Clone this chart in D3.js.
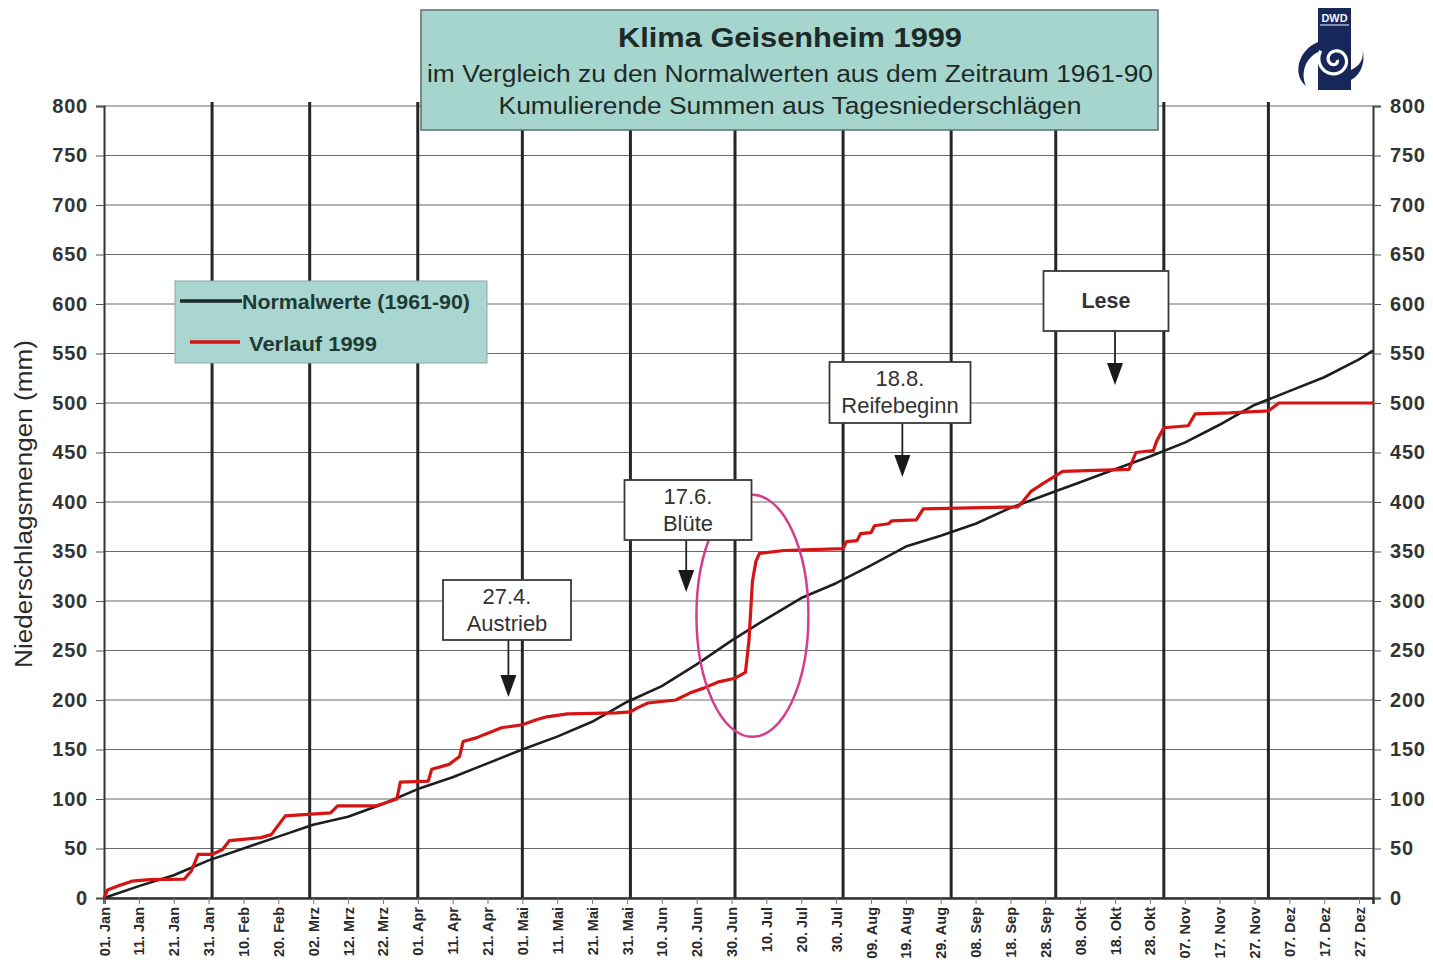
<!DOCTYPE html>
<html><head><meta charset="utf-8">
<script src="https://cdn.jsdelivr.net/npm/d3@7/dist/d3.min.js"></script>
<style>
html,body{margin:0;padding:0;background:#fff;}
svg{display:block;font-family:"Liberation Sans",Arial,sans-serif;}
</style></head>
<body>
<svg id="chart" width="1433" height="974"></svg>
<script>
// ---- DATA ----
const titleLines = ["Klima Geisenheim 1999", "im Vergleich zu den Normalwerten aus dem Zeitraum 1961-90", "Kumulierende Summen aus Tagesniederschlägen"];
const yAxisTitle = "Niederschlagsmengen (mm)";
const yTicks = [0,50,100,150,200,250,300,350,400,450,500,550,600,650,700,750,800];
const tickDays = [1,11,21,31,41,51,61,71,81,91,101,111,121,131,141,151,161,171,181,191,201,211,221,231,241,251,261,271,281,291,301,311,321,331,341,351,361];
const tickLabels = ["01. Jan","11. Jan","21. Jan","31. Jan","10. Feb","20. Feb","02. Mrz","12. Mrz","22. Mrz","01. Apr","11. Apr","21. Apr","01. Mai","11. Mai","21. Mai","31. Mai","10. Jun","20. Jun","30. Jun","10. Jul","20. Jul","30. Jul","09. Aug","19. Aug","29. Aug","08. Sep","18. Sep","28. Sep","08. Okt","18. Okt","28. Okt","07. Nov","17. Nov","27. Nov","07. Dez","17. Dez","27. Dez"];
const monthStartDays = [32,60,91,121,152,182,213,244,274,305,335];

// Normalwerte (1961-90): day of year, cumulative mm
const normalDays   = [1,11,21,31,41,51,61,71,81,91,101,111,121,131,141,151,161,171,181,191,201,211,221,231,241,251,261,271,281,291,301,311,321,331,341,351,361,365];
const normalValues = [0,12,23,38,50,62,74,82,95,110,122,136,150,163,178,198,214,236,260,282,303,318,336,355,366,378,394,407,420,433,446,460,478,498,512,526,544,553];

// Verlauf 1999: day of year, cumulative mm
const rainDays   = [1,2,5,9,14,24,26,28,32,35,37,46,49,53,66,68,79,85,86,94,95,100,103,104,108,110,115,121,125,128,134,148,152,154,157,165,169,173,177,182,185,186,187,188,189,196,213,214,217,218,221,222,226,227,234,236,263,264,267,271,276,295,297,302,303,305,312,314,324,335,338,365];
const rainValues = [0,8,12,17,18.5,19,27,44,44,49,58,61,64,83,86,93,93,100,117,118,130,135,143,158,162,165,172,175,180,183,186,187,188,192,197,200,207,212,218,222,228,260,320,340,348,351,353,360,361,368,369,376,378,381,382,393,395,398,411,420,431,433,450,452,462,475,477,489,490,492,500,500];

const legendLabels = ["Normalwerte (1961-90)", "Verlauf 1999"];
const annotDays   = [117, 168, 230, 291];
const annotLines  = [["27.4.","Austrieb"], ["17.6.","Blüte"], ["18.8.","Reifebeginn"], ["Lese"]];

// ---- LAYOUT ----
const svg = d3.select("#chart");
const x = d3.scaleLinear().domain([1,365]).range([104,1373]);
const y = d3.scaleLinear().domain([0,800]).range([898,106]);

const g = svg.append("g");

// horizontal grid
g.selectAll("line.hgrid").data(yTicks).join("line")
  .attr("x1", x(1)).attr("x2", x(365))
  .attr("y1", d=>y(d)).attr("y2", d=>y(d))
  .attr("stroke", "#6a6a6a").attr("stroke-width", 1.2);

// month lines
g.selectAll("line.vgrid").data(monthStartDays).join("line")
  .attr("x1", d=>x(d)).attr("x2", d=>x(d))
  .attr("y1", y(800)-4).attr("y2", y(0))
  .attr("stroke", "#262626").attr("stroke-width", 3);

const tickFont = sel => sel.attr("font-size", 20).attr("font-weight","bold").attr("letter-spacing", 0.8)
  .attr("fill","#333").attr("font-family","Liberation Sans, Arial, sans-serif");

// left axis
const leftAxis = d3.axisLeft(y).tickValues(yTicks).tickSize(8).tickPadding(8);
const la = g.append("g").attr("transform", `translate(${x(1)},0)`).call(leftAxis);
la.select(".domain").attr("stroke","#333").attr("stroke-width",2);
la.selectAll(".tick line").attr("stroke","#555");
la.selectAll("text").call(tickFont);

// right axis
const rightAxis = d3.axisRight(y).tickValues(yTicks).tickSize(8).tickPadding(9);
const ra = g.append("g").attr("transform", `translate(${x(365)},0)`).call(rightAxis);
ra.select(".domain").attr("stroke","#333").attr("stroke-width",2);
ra.selectAll(".tick line").attr("stroke","#555");
ra.selectAll("text").call(tickFont);

// bottom axis
const xAxis = d3.axisBottom(x).tickValues(tickDays).tickSize(6).tickFormat((d,i)=>tickLabels[i]);
const xa = g.append("g").attr("transform", `translate(0,${y(0)})`).call(xAxis);
xa.select(".domain").attr("stroke","#333").attr("stroke-width",2.5);
xa.selectAll(".tick line").attr("stroke","#777");
xa.selectAll("text")
  .attr("transform","rotate(-90)")
  .attr("text-anchor","end")
  .attr("x",-9).attr("y",0).attr("dy","0.35em")
  .attr("font-size",14.5).attr("font-weight","bold").attr("fill","#2a2a2a")
  .attr("font-family","Liberation Sans, Arial, sans-serif");

// y title
svg.append("text")
  .attr("transform", `translate(32,${y(398)}) rotate(-90)`)
  .attr("text-anchor","middle")
  .attr("font-size",23).attr("fill","#2a2a2a")
  .attr("textLength",328).attr("lengthAdjust","spacingAndGlyphs")
  .text(yAxisTitle);

// lines
const normal = normalDays.map((d,i)=>[d, normalValues[i]]);
const rain = rainDays.map((d,i)=>[d, rainValues[i]]);
const line = d3.line().x(d=>x(d[0])).y(d=>y(d[1]));
g.append("path").datum(normal).attr("d", line)
  .attr("fill","none").attr("stroke","#1e1e1e").attr("stroke-width",2.6).attr("stroke-linejoin","round");
g.append("path").datum(rain).attr("d", line)
  .attr("fill","none").attr("stroke","#d51414").attr("stroke-width",3.2).attr("stroke-linejoin","round");

// pink ellipse
svg.append("ellipse")
  .attr("cx", x(187)).attr("cy", y(285))
  .attr("rx", 56).attr("ry", 121)
  .attr("fill","none").attr("stroke","#d63c8c").attr("stroke-width",2.5);

// annotations
const boxes = [
  {cx:507, top:580, w:128, h:60, tip:697},
  {cx:688, top:480, w:127, h:60, tip:592},
  {cx:900, top:362, w:141, h:61, tip:477},
  {cx:1106, top:271, w:125, h:60, tip:385}
];
annotDays.forEach((d,i)=>{
  const b = boxes[i];
  const ax = x(d);
  const ag = svg.append("g");
  ag.append("line").attr("x1",ax).attr("x2",ax).attr("y1",b.top+b.h).attr("y2",b.tip-18)
    .attr("stroke","#222").attr("stroke-width",1.8);
  ag.append("path").attr("d",`M${ax-8},${b.tip-22}L${ax+8},${b.tip-22}L${ax},${b.tip}Z`).attr("fill","#1a1a1a");
  ag.append("rect").attr("x",b.cx-b.w/2).attr("y",b.top).attr("width",b.w).attr("height",b.h)
    .attr("fill","#fff").attr("stroke","#3a3a3a").attr("stroke-width",1.8);
  const lines = annotLines[i];
  if (lines.length === 2) {
    lines.forEach((t,k)=>{
      ag.append("text").attr("x",b.cx).attr("y",b.top+24+k*27)
        .attr("text-anchor","middle").attr("font-size",22).attr("fill","#333").text(t);
    });
  } else {
    ag.append("text").attr("x",b.cx).attr("y",b.top+b.h/2+7)
      .attr("text-anchor","middle").attr("font-size",21.5).attr("font-weight","bold").attr("fill","#333").text(lines[0]);
  }
});

// legend
const lg = svg.append("g");
lg.append("rect").attr("x",175).attr("y",281).attr("width",312).attr("height",82)
  .attr("fill","#a9d6d0").attr("stroke","#8aa9a5").attr("stroke-width",1);
lg.append("line").attr("x1",180).attr("x2",242).attr("y1",301).attr("y2",301).attr("stroke","#1e2a28").attr("stroke-width",3.5);
lg.append("line").attr("x1",190).attr("x2",240).attr("y1",342).attr("y2",342).attr("stroke","#d51414").attr("stroke-width",3.5);
lg.append("text").attr("x",242).attr("y",309).attr("font-size",20).attr("font-weight","bold")
  .attr("fill","#1f3a35").attr("textLength",228).attr("lengthAdjust","spacingAndGlyphs").text(legendLabels[0]);
lg.append("text").attr("x",249).attr("y",351).attr("font-size",20).attr("font-weight","bold")
  .attr("fill","#1f3a35").attr("textLength",128).attr("lengthAdjust","spacingAndGlyphs").text(legendLabels[1]);

// title box
const tg = svg.append("g");
tg.append("rect").attr("x",421).attr("y",10).attr("width",737).attr("height",120)
  .attr("fill","#a6d5cd").attr("stroke","#5c6e6b").attr("stroke-width",1.5);
tg.append("text").attr("x",790).attr("y",47).attr("text-anchor","middle")
  .attr("font-size",28).attr("font-weight","bold").attr("fill","#1c2a28")
  .attr("textLength",344).attr("lengthAdjust","spacingAndGlyphs").text(titleLines[0]);
tg.append("text").attr("x",790).attr("y",82).attr("text-anchor","middle")
  .attr("font-size",23).attr("fill","#1c2a28").attr("textLength",726).attr("lengthAdjust","spacingAndGlyphs").text(titleLines[1]);
tg.append("text").attr("x",790).attr("y",114).attr("text-anchor","middle")
  .attr("font-size",23).attr("fill","#1c2a28").attr("textLength",583).attr("lengthAdjust","spacingAndGlyphs").text(titleLines[2]);

// DWD logo
const logo = svg.append("g");
logo.append("rect").attr("x",1318).attr("y",8).attr("width",33).attr("height",82).attr("fill","#17275a");
logo.append("text").attr("x",1334.5).attr("y",22).attr("text-anchor","middle").attr("font-size",11).attr("font-weight","bold")
  .attr("fill","#f4f4f4").attr("textLength",26).attr("lengthAdjust","spacingAndGlyphs").text("DWD");
logo.append("line").attr("x1",1320).attr("x2",1349).attr("y1",25).attr("y2",25).attr("stroke","#f4f4f4").attr("stroke-width",1);
const spiralPts = d3.range(0, 3.2*Math.PI, 0.1).map(t=>[1335 + (2+t*1.5)*Math.cos(t), 60 + (2+t*1.5)*Math.sin(t)]);
logo.append("path").attr("d", d3.line().curve(d3.curveBasis)(spiralPts)).attr("fill","none").attr("stroke","#fff").attr("stroke-width",3.2);
logo.append("path").attr("d","M1318,42 C1298,50 1292,75 1306,86 C1300,72 1306,58 1318,52 Z").attr("fill","#17275a");
logo.append("path").attr("d","M1351,70 C1360,66 1365,58 1362,48 C1366,60 1362,74 1351,80 Z").attr("fill","#17275a");
</script>
</body></html>
